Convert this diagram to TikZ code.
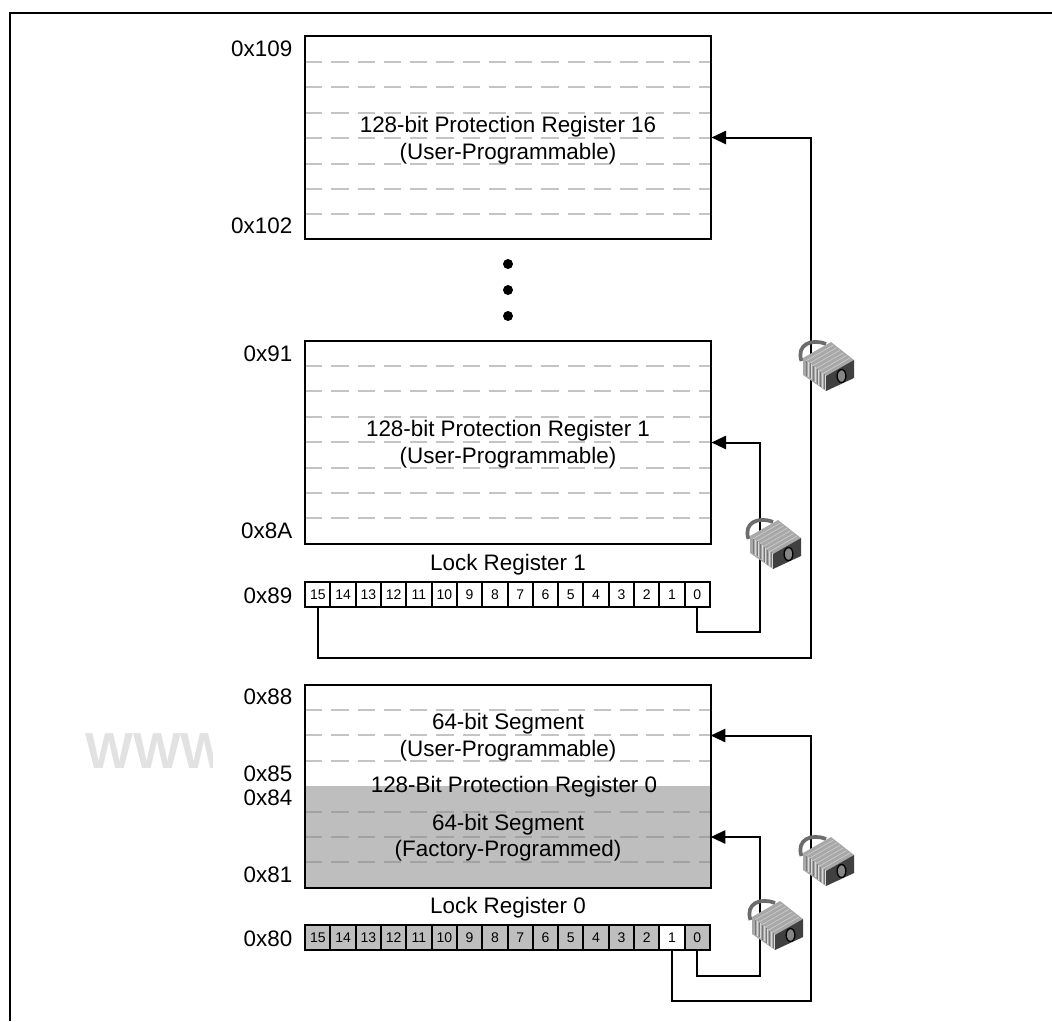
\documentclass[tikz,border=0pt]{standalone}
\usepackage{fontspec}
\setmainfont{Liberation Sans}
\usetikzlibrary{arrows.meta}
\definecolor{dashgrey}{HTML}{C4C4C4}
\definecolor{dashdark}{HTML}{A2A2A2}
\definecolor{segfill}{HTML}{BEBEBE}
\definecolor{lockmid}{HTML}{A8A8A8}
\definecolor{lockdark}{HTML}{404040}
\definecolor{shackle}{HTML}{6C6C6C}
\definecolor{markgrey}{HTML}{E2E2E2}
\tikzset{
    pics/padlock/.style={code={
        \draw[shackle, line width=2.8pt] (-1.5,3) .. controls (-7,-13) and (8,-20) .. (23,-14);
        \fill[lockmid] (0,0) -- (28,-16) -- (51,2) -- (23,18) -- cycle;
        \fill[lockmid] (0,0) -- (23,18) -- (23,33) -- (0,17) -- cycle;
        \fill[lockdark] (23,18) -- (51,2) -- (51,20) -- (23,33) -- cycle;
        \foreach \i in {1,...,6} {
            \draw[lockdark!70, line width=0.5pt] (\i*3.5,\i*2.7) -- ++(0,15);
            \draw[white!85!black, line width=0.5pt] (\i*3.5+1.5,\i*2.7+1) -- ++(0,15);
        }
        \foreach \i in {1,...,6} {
            \draw[white!80!black, line width=0.5pt] (\i*3.3,\i*2.6) -- ++(27,-15.5);
        }
        \draw[black, fill=lockmid!80!black, line width=1pt] (38.5,18) ellipse[x radius=4.4, y radius=6.5];
    }}
}
\begin{document}
\begin{tikzpicture}[x=0.75pt, y=-0.75pt]
    \tikzstyle{regbox} = [draw, line width=1.5pt, minimum width=304.5pt, minimum height=152.5pt, inner sep=0pt]
    \tikzstyle{segbox} = [minimum width=304.5pt, minimum height=76.2pt, inner sep=0pt]
    \tikzstyle{bitcell} = [draw, line width=1.5pt, minimum width=19pt, minimum height=19pt, inner sep=0pt, font=\fontsize{10.5}{12}\selectfont]
    \tikzstyle{addr} = [anchor=base east, inner sep=0pt, font=\fontsize{16.8}{18}\selectfont]
    \tikzstyle{caption} = [anchor=base, inner sep=0pt, font=\fontsize{16.8}{18}\selectfont]
    \tikzstyle{rowdash} = [dashgrey, line width=1.4pt, dash pattern=on 13pt off 6.7pt]
    \tikzstyle{wire} = [line width=1.5pt]
    \tikzstyle{wirearrow} = [wire, -{Triangle[length=11pt, width=10pt]}]
    \useasboundingbox (0,0) rectangle (1052,1021);
    % frame, open at the bottom and on the right
    \draw[line width=1.8pt] (10,1021) -- (10,13) -- (1052,13);
    % watermark
    \begin{scope}
        \clip (70,700) rectangle (212,800);
        \node[anchor=west, inner sep=0pt, markgrey, font=\bfseries\fontsize{38}{42}\selectfont] (mark) at (85,751) {WWW};
    \end{scope}
    % registers
    \fill[segfill] (305,786) rectangle (710,888);
    \foreach \y in {62,87.4,112.8,138.2,163.6,189,214.4} {
        \draw[rowdash] (305,\y) -- (710,\y);
    }
    \foreach \y in {366,391.4,416.8,442.2,467.6,493,518.4} {
        \draw[rowdash] (305,\y) -- (710,\y);
    }
    \foreach \y in {710,735.4,760.8} {
        \draw[rowdash] (305,\y) -- (710,\y);
    }
    \foreach \y in {811.6,837,862.4} {
        \draw[rowdash, dashdark] (305,\y) -- (710,\y);
    }
    \node[regbox] (regP) at (507.5,137.5) {};
    \node[regbox] (regB) at (507.5,442.5) {};
    \node[regbox] (regA) at (507.5,786.5) {};
    \node[segbox] (segU) at (507.5,735.5) {};
    \node[segbox] (segF) at (507.5,837) {};
    \node[caption] (txtP1) at (508,132.3) {128-bit Protection Register 16};
    \node[caption] (txtP2) at (508,159.3) {(User-Programmable)};
    \node[caption] (txtB1) at (508,436.3) {128-bit Protection Register 1};
    \node[caption] (txtB2) at (508,463.3) {(User-Programmable)};
    \node[caption] (txtU1) at (508,729.3) {64-bit Segment};
    \node[caption] (txtU2) at (508,756) {(User-Programmable)};
    \node[caption] (txtA) at (514,792.7) {128-Bit Protection Register 0};
    \node[caption] (txtF1) at (508,830) {64-bit Segment};
    \node[caption] (txtF2) at (508,856.7) {(Factory-Programmed)};
    \node[caption] (lockB) at (508,570.3) {Lock Register 1};
    \node[caption] (lockA) at (508,913.3) {Lock Register 0};
    % dots
    \foreach \y in {264,290,316} {
        \fill (508,\y) circle[radius=5];
    }
    % addresses
    \node[addr] (a109) at (292.5,56.7) {0x109};
    \node[addr] (a102) at (292.5,233.7) {0x102};
    \node[addr] (a91) at (292.5,361.7) {0x91};
    \node[addr] (a8A) at (292.5,538.7) {0x8A};
    \node[addr] (a89) at (292.5,603) {0x89};
    \node[addr] (a88) at (292.5,704) {0x88};
    \node[addr] (a85) at (292.5,781.3) {0x85};
    \node[addr] (a84) at (292.5,805.3) {0x84};
    \node[addr] (a81) at (292.5,882.7) {0x81};
    \node[addr] (a80) at (292.5,946) {0x80};
    % lock registers
    \foreach \b in {0,...,15} {
        \node[bitcell] (upb\b) at ({697.3-25.3*\b},594.5) {\b};
        \ifnum\b=1
            \node[bitcell] (lob\b) at ({697.3-25.3*\b},937.5) {\b};
        \else
            \node[bitcell, fill=segfill] (lob\b) at ({697.3-25.3*\b},937.5) {\b};
        \fi
    }
    % connectors
    \coordinate (turnB) at (760,632);
    \coordinate (turnP) at (811,658);
    \coordinate (turnF) at (760,976);
    \coordinate (turnU) at (811,1001);
    \draw[wirearrow] (upb0.south) |- (turnB) |- (regB.east);
    \draw[wirearrow] (upb15.south) |- (turnP) |- (regP.east);
    \draw[wirearrow] (lob0.south) |- (turnF) |- (segF.east);
    \draw[wirearrow] (lob1.south) |- (turnU) |- (segU.east);
    % padlocks
    \pic[x=0.75pt, y=-0.75pt] at (803,358) {padlock};
    \pic[x=0.75pt, y=-0.75pt] at (750,536) {padlock};
    \pic[x=0.75pt, y=-0.75pt] at (803,853) {padlock};
    \pic[x=0.75pt, y=-0.75pt] at (752,917) {padlock};
\end{tikzpicture}
\end{document}
